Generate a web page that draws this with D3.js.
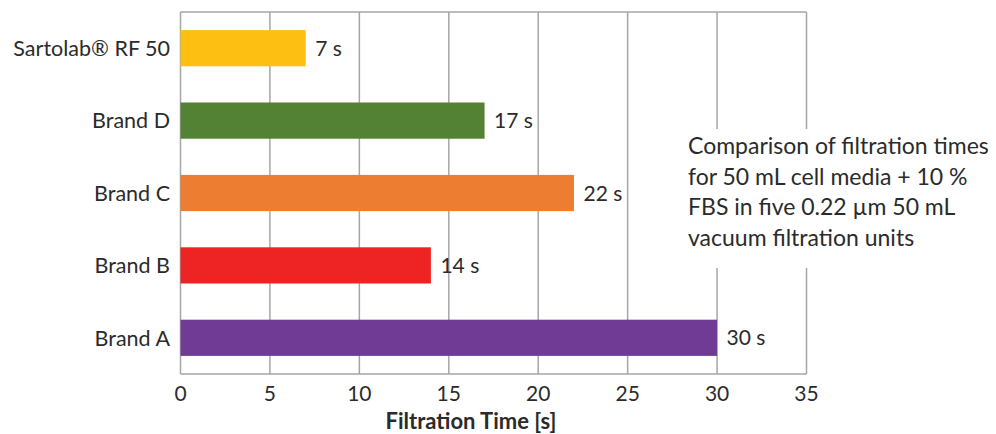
<!DOCTYPE html>
<html>
<head>
<meta charset="utf-8">
<script src="https://cdn.jsdelivr.net/npm/d3@7"></script>
<style>
body { margin: 0; background: #fff; }
</style>
</head>
<body>
<div id="canvas"></div>
<script>
var brands = ["Sartolab® RF 50", "Brand D", "Brand C", "Brand B", "Brand A"];
var times = [7, 17, 22, 14, 30];
var colors = ["#fdbf12", "#548235", "#ed7d31", "#ee2424", "#703b95"];
var xTicks = [0, 5, 10, 15, 20, 25, 30, 35];
var note = ["Comparison of filtration times", "for 50 mL cell media + 10 %",
            "FBS in five 0.22 µm 50 mL", "vacuum filtration units"];

var w = 996, h = 434;
var mLeft = 180.5, mRight = 806.5, mTop = 12, mBottom = 374;
var font = "Lato, sans-serif";

var svg = d3.select("#canvas").append("svg")
    .attr("width", w)
    .attr("height", h);

var x = d3.scaleLinear().domain([0, 35]).range([mLeft, mRight]);
var y = d3.scaleBand().domain(brands).range([mTop, mBottom])
    .paddingInner(0.5).paddingOuter(0.25);

// grid + frame lines
svg.selectAll(".grid")
  .data(xTicks)
  .join("line")
    .attr("x1", d => x(d)).attr("x2", d => x(d))
    .attr("y1", mTop).attr("y2", mBottom)
    .attr("stroke", "#a6a6a6")
    .attr("stroke-width", 1.5);
svg.append("line")
    .attr("x1", mLeft).attr("x2", mRight)
    .attr("y1", mTop).attr("y2", mTop)
    .attr("stroke", "#a6a6a6").attr("stroke-width", 1.5);
svg.append("line")
    .attr("x1", mLeft).attr("x2", mRight)
    .attr("y1", mBottom).attr("y2", mBottom)
    .attr("stroke", "#a6a6a6").attr("stroke-width", 1.5);

// bars
svg.selectAll(".bar")
  .data(brands)
  .join("rect")
    .attr("x", x(0))
    .attr("y", d => y(d))
    .attr("width", (d, i) => x(times[i]) - x(0))
    .attr("height", y.bandwidth())
    .attr("fill", (d, i) => colors[i]);

// value labels
svg.selectAll(".val")
  .data(brands)
  .join("text")
    .attr("x", (d, i) => x(times[i]) + 9.5)
    .attr("y", d => y(d) + y.bandwidth() / 2)
    .attr("dy", "0.36em")
    .style("font-family", font)
    .style("font-size", "21px")
    .attr("fill", "#2b2b2b")
    .text((d, i) => times[i] + " s");

// category labels
svg.selectAll(".cat")
  .data(brands)
  .join("text")
    .attr("x", mLeft - 10.5)
    .attr("y", d => y(d) + y.bandwidth() / 2)
    .attr("dy", "0.36em")
    .attr("text-anchor", "end")
    .style("font-family", font)
    .style("font-size", "21.5px")
    .attr("fill", "#2b2b2b")
    .text(d => d);

// x tick labels
svg.selectAll(".tick")
  .data(xTicks)
  .join("text")
    .attr("x", d => x(d))
    .attr("y", 401)
    .attr("text-anchor", "middle")
    .style("font-family", font)
    .style("font-size", "21px")
    .attr("fill", "#2b2b2b")
    .text(d => d);

svg.append("text")
    .attr("x", 471)
    .attr("y", 429)
    .attr("text-anchor", "middle")
    .style("font-family", font)
    .style("font-size", "22px")
    .style("font-weight", "bold")
    .attr("fill", "#2b2b2b")
    .text("Filtration Time [s]");

// annotation box
svg.append("rect")
    .attr("x", 680).attr("y", 129)
    .attr("width", w - 680).attr("height", 139)
    .attr("fill", "#fff");
svg.selectAll(".note")
  .data(note)
  .join("text")
    .attr("x", 688)
    .attr("y", (d, i) => 154 + i * 30.5)
    .style("font-family", font)
    .style("font-size", "23px")
    .attr("fill", "#2b2b2b")
    .text(d => d);
</script>
</body>
</html>
